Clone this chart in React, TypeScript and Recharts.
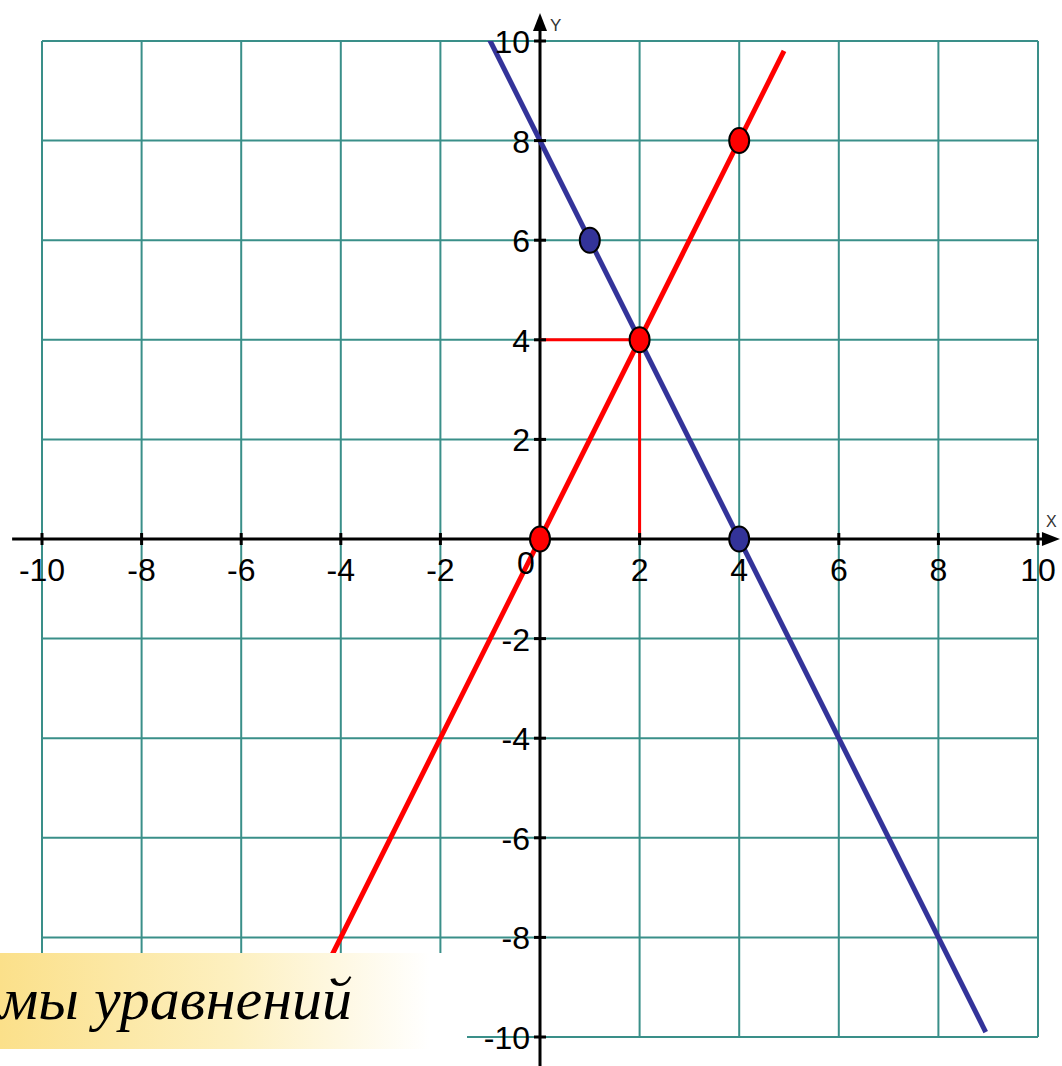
import {
  ComposedChart,
  CartesianGrid,
  Line,
  ReferenceDot,
  ReferenceLine,
  Scatter,
  XAxis,
  YAxis,
} from "recharts";

const gridTicks = [-10, -8, -6, -4, -2, 0, 2, 4, 6, 8, 10];
const xLabels = [-10, -8, -6, -4, -2, 2, 4, 6, 8, 10];
const yLabels = [-10, -8, -6, -4, -2, 2, 4, 6, 8, 10];

// y = 2x
const redLine = [
  { x: -4.6, y: -9.2 },
  { x: 4.9, y: 9.8 },
];
// y = -2x + 8
const blueLine = [
  { x: -1.02, y: 10.04 },
  { x: 8.95, y: -9.9 },
];
const redHorizontal = [
  { x: 0, y: 4 },
  { x: 2, y: 4 },
];
const redVertical = [
  { x: 2, y: 0 },
  { x: 2, y: 4 },
];
const redPoints = [
  { x: 0, y: 0 },
  { x: 2, y: 4 },
  { x: 4, y: 8 },
];
const bluePoints = [
  { x: 1, y: 6 },
  { x: 4, y: 0 },
];

const RED = "#ff0000";
const BLUE = "#333399";
const GRID = "#3a8f89";
const FONT = "'Liberation Sans', Arial, sans-serif";

const ellipse = (p: any) => (
  <ellipse cx={p.cx} cy={p.cy} rx={10} ry={12.5} fill={p.fill} stroke="#000" strokeWidth={2} />
);

export default function App() {
  return (
    <div style={{ position: "relative", width: 1062, height: 1066, background: "#fff", overflow: "hidden" }}>
      <style>{`body{margin:0}`}</style>
      <ComposedChart width={1062} height={1066} margin={{ top: 41, right: 24, bottom: 29, left: 42 }}>
        <CartesianGrid
          stroke={GRID}
          strokeWidth={2}
          horizontalValues={gridTicks}
          verticalValues={gridTicks}
        />
        <XAxis type="number" dataKey="x" domain={[-10, 10]} ticks={gridTicks} hide allowDataOverflow />
        <YAxis type="number" dataKey="y" domain={[-10, 10]} ticks={gridTicks} hide allowDataOverflow />

        <ReferenceLine
          segment={[{ x: -10.6, y: 0 }, { x: 10.2, y: 0 }]}
          stroke="#000"
          strokeWidth={3}
          ifOverflow="visible"
        />
        <ReferenceLine
          segment={[{ x: 0, y: -10.7 }, { x: 0, y: 10.3 }]}
          stroke="#000"
          strokeWidth={3}
          ifOverflow="visible"
        />
        <ReferenceDot
          x={10.44}
          y={0}
          ifOverflow="visible"
          shape={(p: any) => (
            <path d={`M${p.cx},${p.cy} L${p.cx - 18},${p.cy - 7} L${p.cx - 18},${p.cy + 7} Z`} fill="#000" />
          )}
        />
        <ReferenceDot
          x={0}
          y={10.56}
          ifOverflow="visible"
          shape={(p: any) => (
            <path d={`M${p.cx},${p.cy} L${p.cx - 7},${p.cy + 18} L${p.cx + 7},${p.cy + 18} Z`} fill="#000" />
          )}
        />
        <ReferenceDot
          x={0}
          y={10.56}
          ifOverflow="visible"
          shape={(p: any) => (
            <text x={p.cx + 10} y={p.cy + 18} fontSize={17} fontFamily={FONT} fill="#333">
              Y
            </text>
          )}
        />
        <ReferenceDot
          x={10.44}
          y={0}
          ifOverflow="visible"
          shape={(p: any) => (
            <text x={p.cx - 14} y={p.cy - 12} fontSize={16} fontFamily={FONT} fill="#333">
              X
            </text>
          )}
        />

        {gridTicks.map((t) => (
          <ReferenceDot
            key={`xt${t}`}
            x={t}
            y={0}
            ifOverflow="visible"
            shape={(p: any) => (
              <line x1={p.cx} y1={p.cy - 6} x2={p.cx} y2={p.cy + 6} stroke="#000" strokeWidth={3} />
            )}
          />
        ))}
        {gridTicks.map((t) => (
          <ReferenceDot
            key={`yt${t}`}
            x={0}
            y={t}
            ifOverflow="visible"
            shape={(p: any) => (
              <line x1={p.cx - 6} y1={p.cy} x2={p.cx + 6} y2={p.cy} stroke="#000" strokeWidth={3} />
            )}
          />
        ))}
        {xLabels.map((t) => (
          <ReferenceDot
            key={`xl${t}`}
            x={t}
            y={0}
            ifOverflow="visible"
            shape={(p: any) => (
              <text x={p.cx} y={p.cy + 42} textAnchor="middle" fontSize={32} fontFamily={FONT} fill="#000">
                {t}
              </text>
            )}
          />
        ))}
        {yLabels.map((t) => (
          <ReferenceDot
            key={`yl${t}`}
            x={0}
            y={t}
            ifOverflow="visible"
            shape={(p: any) => (
              <text x={p.cx - 10} y={p.cy + 12} textAnchor="end" fontSize={32} fontFamily={FONT} fill="#000">
                {t}
              </text>
            )}
          />
        ))}
        <ReferenceDot
          x={0}
          y={0}
          ifOverflow="visible"
          shape={(p: any) => (
            <text x={p.cx - 14} y={p.cy + 35} textAnchor="middle" fontSize={32} fontFamily={FONT} fill="#000">
              0
            </text>
          )}
        />

        <Line data={redHorizontal} dataKey="y" stroke={RED} strokeWidth={3} dot={false} isAnimationActive={false} />
        <Line data={redVertical} dataKey="y" stroke={RED} strokeWidth={3} dot={false} isAnimationActive={false} />
        <Line data={blueLine} dataKey="y" stroke={BLUE} strokeWidth={5} dot={false} isAnimationActive={false} />
        <Line data={redLine} dataKey="y" stroke={RED} strokeWidth={5} dot={false} isAnimationActive={false} />
        <Scatter data={bluePoints} fill={BLUE} shape={ellipse} isAnimationActive={false} />
        <Scatter data={redPoints} fill={RED} shape={ellipse} isAnimationActive={false} />
      </ComposedChart>

      <div
        style={{
          position: "absolute",
          left: 0,
          top: 953,
          width: 467,
          height: 96,
          background: "linear-gradient(to right, #fbe08a 0%, #fdf0c0 50%, #ffffff 92%)",
        }}
      >
        <div
          style={{
            position: "absolute",
            left: 0,
            top: 6,
            fontFamily: "'Liberation Serif', 'Times New Roman', serif",
            fontStyle: "italic",
            fontSize: 60,
            lineHeight: "80px",
            whiteSpace: "nowrap",
            color: "#000",
          }}
        >
          мы уравнений
        </div>
      </div>
    </div>
  );
}
